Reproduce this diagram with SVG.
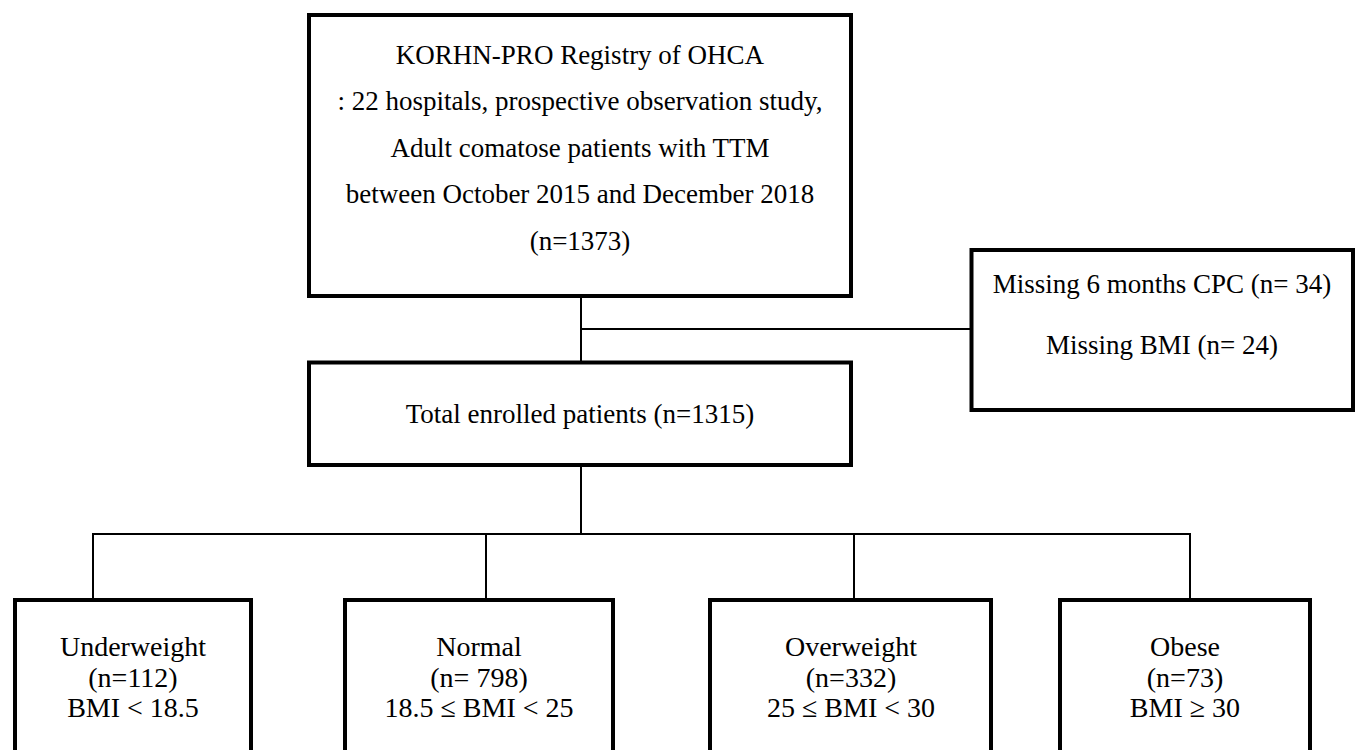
<svg xmlns="http://www.w3.org/2000/svg" width="1357" height="750" viewBox="0 0 1357 750">
<style>
.box{fill:#fff;stroke:#000;stroke-width:4}
.ln{stroke:#000;stroke-width:2;fill:none}
text{font-family:"Liberation Serif","Times New Roman",serif;font-size:27px;fill:#000;text-anchor:middle}
.sm{font-size:28px}
</style>
<rect width="1357" height="750" fill="#fff"/>
<g id="connectors">
<line class="ln" x1="581" y1="296" x2="581" y2="362"/>
<line class="ln" x1="581" y1="329" x2="971" y2="329"/>
<line class="ln" x1="581" y1="465" x2="581" y2="534"/>
<line class="ln" x1="93" y1="534" x2="1190" y2="534"/>
<line class="ln" x1="93" y1="533" x2="93" y2="600"/>
<line class="ln" x1="486" y1="533" x2="486" y2="600"/>
<line class="ln" x1="854" y1="533" x2="854" y2="600"/>
<line class="ln" x1="1190" y1="533" x2="1190" y2="600"/>
</g>
<g id="registry">
<rect class="box" x="309" y="15" width="542" height="281"/>
<text x="580" y="64">KORHN-PRO Registry of OHCA</text>
<text x="580" y="110">: 22 hospitals, prospective observation study,</text>
<text x="580" y="157">Adult comatose patients with TTM</text>
<text x="580" y="203">between October 2015 and December 2018</text>
<text x="580" y="250">(n=1373)</text>
</g>
<g id="excluded">
<rect class="box" x="971.5" y="250" width="381.5" height="160"/>
<text x="1162" y="293">Missing 6 months CPC (n= 34)</text>
<text x="1162" y="354">Missing BMI (n= 24)</text>
</g>
<g id="enrolled">
<rect class="box" x="309" y="362.5" width="542" height="102.5"/>
<text x="580" y="423">Total enrolled patients (n=1315)</text>
</g>
<g id="underweight">
<rect class="box" x="15" y="600" width="236" height="170"/>
<text class="sm" x="133" y="656">Underweight</text>
<text class="sm" x="133" y="687">(n=112)</text>
<text class="sm" x="133" y="717">BMI &lt; 18.5</text>
</g>
<g id="normal">
<rect class="box" x="345" y="600" width="268" height="170"/>
<text class="sm" x="479" y="656">Normal</text>
<text class="sm" x="479" y="687">(n= 798)</text>
<text class="sm" x="479" y="717">18.5 ≤ BMI &lt; 25</text>
</g>
<g id="overweight">
<rect class="box" x="710" y="600" width="281" height="170"/>
<text class="sm" x="851" y="656">Overweight</text>
<text class="sm" x="851" y="687">(n=332)</text>
<text class="sm" x="851" y="717">25 ≤ BMI &lt; 30</text>
</g>
<g id="obese">
<rect class="box" x="1060" y="600" width="250" height="170"/>
<text class="sm" x="1185" y="656">Obese</text>
<text class="sm" x="1185" y="687">(n=73)</text>
<text class="sm" x="1185" y="717">BMI ≥ 30</text>
</g>
</svg>
